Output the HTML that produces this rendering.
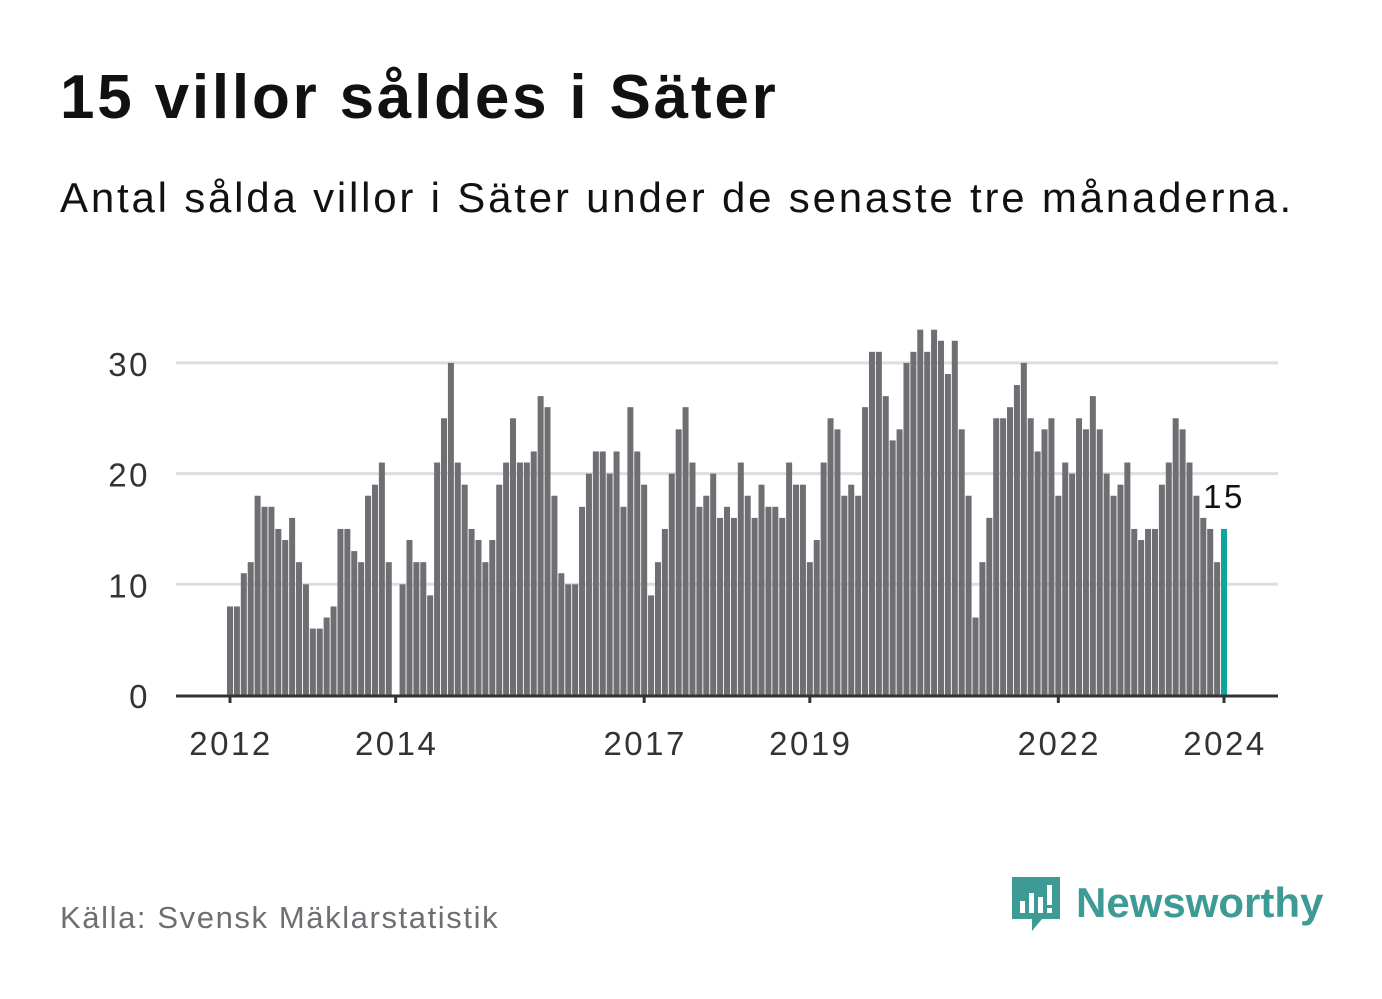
<!DOCTYPE html>
<html><head><meta charset="utf-8">
<style>
body{margin:0;width:1382px;height:999px;background:#fff;font-family:"Liberation Sans","DejaVu Sans",sans-serif;position:relative;overflow:hidden}
#title{position:absolute;left:60px;top:62px;font-size:62px;font-weight:bold;color:#111;margin:0;letter-spacing:2.8px}
#sub{position:absolute;left:60px;top:174px;font-size:42px;color:#111;letter-spacing:2.8px}
#src{position:absolute;left:60px;top:900px;font-size:31px;color:#6f6e73;letter-spacing:1.6px}
#logo{position:absolute;left:1010px;top:873px;display:flex;align-items:center}
#logo span{font-size:42px;font-weight:bold;color:#3d9a94;margin-left:14px}
text{letter-spacing:2.5px}
</style></head><body>
<h1 id="title">15 villor såldes i Säter</h1>
<div id="sub">Antal sålda villor i Säter under de senaste tre månaderna.</div>
<svg id="chart" width="1382" height="999" style="position:absolute;left:0;top:0"></svg>
<div id="src">Källa: Svensk Mäklarstatistik</div>
<div id="logo">
<svg width="52" height="60" viewBox="0 0 52 60"><path d="M2 4h48v42H32l-10 12v-12H2z" fill="#3d9a94"/><rect x="10" y="28" width="5" height="12" fill="#fff"/><rect x="19" y="20" width="5" height="20" fill="#fff"/><rect x="28" y="24" width="5" height="16" fill="#fff"/><rect x="37" y="12" width="5" height="20" fill="#fff"/><rect x="37" y="35" width="5" height="5" fill="#fff"/></svg>
<span>Newsworthy</span></div>
<script>
const values=[8,8,11,12,18,17,17,15,14,16,12,10,6,6,7,8,15,15,13,12,18,19,21,12,0,
10,14,12,12,9,21,25,30,21,19,15,14,12,14,19,21,25,21,21,22,27,26,18,11,10,10,17,20,22,22,
20,22,17,26,22,19,9,12,15,20,24,26,21,17,18,20,16,17,16,21,18,16,19,17,17,16,21,19,19,12,
14,21,25,24,18,19,18,26,31,31,27,23,24,30,31,33,31,33,32,29,32,24,18,7,12,16,25,25,26,28,
30,25,22,24,25,18,21,20,25,24,27,24,20,18,19,21,15,14,15,15,19,21,25,24,21,18,16,15,12,15];
const yTicks=[0,10,20,30];
const xTickYears=[2012,2014,2017,2019,2022,2024];
const startYear=2012;
const NS="http://www.w3.org/2000/svg";
const svg=document.getElementById('chart');
const X0=230,STEP=994/144,Y0=695,UNIT=11.07;
const x=i=>X0+i*STEP, y=v=>Y0-v*UNIT;
function el(t,a){const e=document.createElementNS(NS,t);for(const k in a)e.setAttribute(k,a[k]);svg.appendChild(e);return e;}
yTicks.forEach(t=>{
 if(t>0){const g=el('line',{x1:176,x2:1278,y1:y(t),y2:y(t),stroke:'#dedede','stroke-width':3});
 
 }
 const l=el('text',{x:150,y:y(t)+13,'text-anchor':'end','font-size':33,fill:'#333'});l.textContent=t;
 
 
});
values.forEach((v,i)=>{
 if(v<=0)return;
 const last=i===values.length-1;
 const r=el('rect',{x:x(i)-3,y:y(v),width:6,height:v*UNIT,fill:last?'#0ea59c':'#6f6e73'});
 
 
});
const ax=el('line',{x1:176,x2:1278,y1:Y0+1,y2:Y0+1,stroke:'#333','stroke-width':3});


xTickYears.forEach(yr=>{
 const px=x((yr-startYear)*12);
 const t=el('line',{x1:px,x2:px,y1:Y0,y2:Y0+8,stroke:'#333','stroke-width':3});
 
 
 const l=el('text',{x:px+1,y:755,'text-anchor':'middle','font-size':33,fill:'#333'});l.textContent=yr;
 
 
});
const li=values.length-1;
const lab=el('text',{x:x(li),y:y(values[li])-21,'text-anchor':'middle','font-size':33,fill:'#111'});lab.textContent=values[li];


</script>
</body></html>
